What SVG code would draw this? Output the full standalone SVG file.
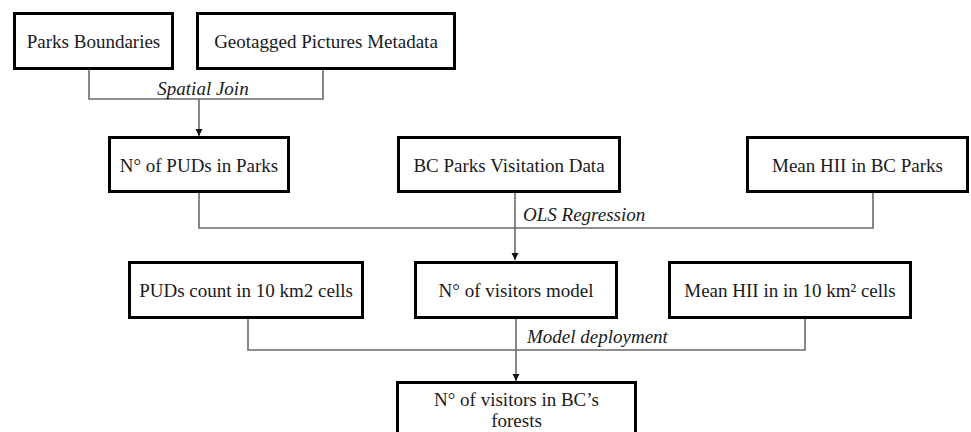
<svg xmlns="http://www.w3.org/2000/svg" width="971" height="432" viewBox="0 0 971 432">
  <style>
    .box { fill: #ffffff; stroke: #000000; stroke-width: 3; }
    .label { font-family: "Liberation Serif", "Times New Roman", serif; font-size: 19px; fill: #1a1a1a; text-anchor: middle; }
    .step { font-family: "Liberation Serif", "Times New Roman", serif; font-size: 19px; font-style: italic; fill: #1a1a1a; }
    .link { fill: none; stroke: #6a6a6a; stroke-width: 1.6; }
  </style>
  <defs>
    <marker id="arrow" markerWidth="8" markerHeight="8" refX="7" refY="4" orient="auto" markerUnits="userSpaceOnUse">
      <path d="M0,0.5 L7,4 L0,7.5 Z" fill="#111111"/>
    </marker>
  </defs>
  <rect width="971" height="432" fill="#ffffff"/>

  <!-- connectors -->
  <g id="connectors">
    <polyline class="link" points="89,69 89,99 323,99 323,69"/>
    <line class="link" x1="199" y1="99" x2="199" y2="136" marker-end="url(#arrow)"/>
    <text class="step" x="203" y="95" text-anchor="middle">Spatial Join</text>

    <polyline class="link" points="199,192 199,228 873,228 873,193"/>
    <line class="link" x1="515" y1="192" x2="515" y2="260" marker-end="url(#arrow)"/>
    <text class="step" x="523" y="221">OLS Regression</text>

    <polyline class="link" points="248,318 248,350 805,350 805,318"/>
    <line class="link" x1="516" y1="318" x2="516" y2="381" marker-end="url(#arrow)"/>
    <text class="step" x="527" y="343">Model deployment</text>
  </g>

  <!-- row 1 -->
  <g id="parks-boundaries">
    <rect class="box" x="14.5" y="13.5" width="158" height="55"/>
    <text class="label" x="93.5" y="48">Parks Boundaries</text>
  </g>
  <g id="geotagged-pictures">
    <rect class="box" x="197.5" y="13.5" width="257" height="55"/>
    <text class="label" x="326" y="48">Geotagged Pictures Metadata</text>
  </g>

  <!-- row 2 -->
  <g id="puds-in-parks">
    <rect class="box" x="109.5" y="137.5" width="179" height="54"/>
    <text class="label" x="199" y="172">N° of PUDs in Parks</text>
  </g>
  <g id="visitation-data">
    <rect class="box" x="398.5" y="137.5" width="221" height="54"/>
    <text class="label" x="509" y="172">BC Parks Visitation Data</text>
  </g>
  <g id="mean-hii-parks">
    <rect class="box" x="747.5" y="137.5" width="220" height="54"/>
    <text class="label" x="857.5" y="172">Mean HII in BC Parks</text>
  </g>

  <!-- row 3 -->
  <g id="puds-count-cells">
    <rect class="box" x="129.5" y="262.5" width="233" height="55"/>
    <text class="label" x="246" y="297">PUDs count in 10 km2 cells</text>
  </g>
  <g id="visitors-model">
    <rect class="box" x="415.5" y="262.5" width="201" height="55"/>
    <text class="label" x="516" y="297">N° of visitors model</text>
  </g>
  <g id="mean-hii-cells">
    <rect class="box" x="669.5" y="262.5" width="241" height="55"/>
    <text class="label" x="790" y="297">Mean HII in in 10 km² cells</text>
  </g>

  <!-- result -->
  <g id="visitors-forests">
    <rect class="box" x="397.5" y="382.5" width="238" height="60"/>
    <text class="label" x="516.5" y="406">N° of visitors in BC’s</text>
    <text class="label" x="516.5" y="427">forests</text>
  </g>
</svg>
